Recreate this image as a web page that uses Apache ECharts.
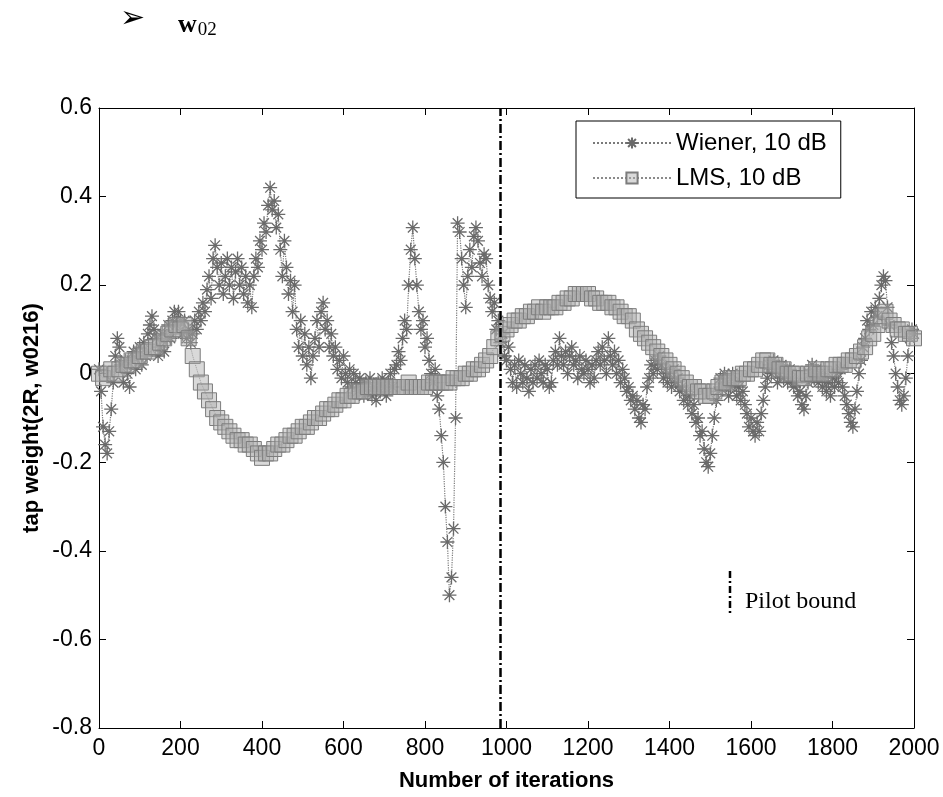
<!DOCTYPE html>
<html>
<head>
<meta charset="utf-8">
<script src="https://cdn.jsdelivr.net/npm/echarts@6/dist/echarts.min.js"></script>
<style>
html,body{margin:0;padding:0;background:#fff;}
#chart{width:943px;height:797px;}
</style>
</head>
<body>
<div id="chart"></div>
<script>
// ---- data ----
const wienerStep = 5;   // Wiener samples every 5 iterations, 0..2000
const wienerValues = [
 0.01,-0.04,-0.12,-0.16,-0.18,-0.13,-0.08,-0.02,0.04,0.08,
 0.06,0.02,-0.02,0.03,0.00,-0.03,0.03,0.05,0.01,0.04,
 0.06,0.02,0.07,0.04,0.09,0.11,0.13,0.10,0.08,0.04,
 0.06,0.09,0.05,0.08,0.11,0.08,0.12,0.14,0.11,0.14,
 0.12,0.09,0.12,0.08,0.10,0.07,0.09,0.12,0.10,0.14,
 0.12,0.16,0.14,0.19,0.22,0.17,0.26,0.29,0.24,0.20,
 0.25,0.18,0.22,0.26,0.20,0.24,0.17,0.23,0.26,0.20,
 0.24,0.18,0.22,0.16,0.20,0.15,0.22,0.26,0.24,0.30,
 0.28,0.34,0.32,0.38,0.42,0.37,0.39,0.33,0.36,0.28,
 0.22,0.30,0.24,0.18,0.21,0.14,0.20,0.10,0.06,0.12,
 0.04,0.09,0.02,0.06,-0.01,0.04,0.08,0.12,0.06,0.14,
 0.16,0.10,0.12,0.06,0.09,0.04,0.06,0.01,0.03,-0.01,
 0.04,0.00,-0.02,0.01,-0.03,0.00,-0.02,-0.04,-0.01,-0.03,
 -0.05,-0.02,-0.04,-0.01,-0.05,-0.03,-0.06,-0.02,-0.04,-0.01,
 -0.03,-0.05,-0.02,0.00,-0.03,0.01,0.02,0.05,0.03,0.08,
 0.12,0.10,0.20,0.28,0.33,0.26,0.20,0.14,0.10,0.12,
 0.06,0.08,0.03,0.00,-0.02,0.01,-0.05,-0.08,-0.14,-0.20,
 -0.30,-0.38,-0.50,-0.46,-0.35,-0.10,0.34,0.32,0.26,0.20,
 0.15,0.22,0.28,0.24,0.31,0.33,0.30,0.25,0.22,0.27,
 0.26,0.20,0.17,0.14,0.16,0.10,0.12,0.07,0.09,0.04,
 0.03,0.06,0.01,-0.02,0.02,-0.03,0.03,0.00,-0.02,0.02,
 -0.01,-0.04,0.01,-0.02,0.02,-0.01,0.03,0.00,-0.02,0.02,
 0.01,-0.03,-0.02,0.03,0.05,0.02,0.08,0.04,0.02,0.05,
 0.00,0.04,0.06,0.02,0.03,-0.01,0.04,0.01,0.00,0.03,
 0.01,-0.02,0.02,-0.01,0.03,0.05,0.02,0.06,0.03,0.00,
 0.08,0.04,0.02,0.05,0.00,0.03,-0.02,0.01,-0.01,-0.04,
 -0.03,-0.06,-0.05,-0.08,-0.06,-0.10,-0.11,-0.07,-0.08,-0.03,
 -0.01,0.02,0.00,0.03,0.01,0.04,0.02,-0.01,0.01,-0.02,
 0.00,-0.03,0.01,-0.02,-0.01,-0.04,-0.03,-0.06,-0.04,-0.07,
 -0.05,-0.09,-0.07,-0.11,-0.10,-0.14,-0.13,-0.17,-0.20,-0.21,
 -0.18,-0.14,-0.10,-0.06,-0.04,-0.01,-0.03,0.00,-0.02,-0.05,
 -0.03,0.00,-0.02,-0.05,-0.03,-0.06,-0.04,-0.07,-0.09,-0.12,
 -0.10,-0.13,-0.14,-0.11,-0.13,-0.09,-0.06,-0.03,-0.01,0.02,
 0.00,0.03,0.01,-0.02,0.00,0.02,-0.01,0.01,-0.02,0.01,
 -0.01,-0.03,-0.02,-0.05,-0.04,-0.07,-0.08,-0.05,-0.02,0.00,
 0.02,-0.01,0.01,-0.02,0.00,-0.03,-0.01,-0.04,-0.02,-0.05,
 -0.01,-0.03,0.00,-0.02,0.01,-0.03,-0.05,-0.07,-0.09,-0.11,
 -0.12,-0.08,-0.04,0.00,0.03,0.06,0.08,0.12,0.10,0.14,
 0.11,0.15,0.13,0.17,0.20,0.22,0.21,0.15,0.11,0.07,
 0.04,0.00,-0.03,-0.06,-0.07,-0.05,-0.01,0.04,0.08,0.10,
 0.09
];
const lmsStep = 10;     // LMS samples every 10 iterations, 0..2000
const lmsValues = [
 0.00,-0.01,0.00,0.01,0.00,0.01,0.02,0.02,0.03,0.03,
 0.04,0.05,0.05,0.06,0.06,0.07,0.08,0.09,0.10,0.11,
 0.10,0.11,0.08,0.04,0.01,-0.02,-0.04,-0.06,-0.08,-0.10,
 -0.11,-0.12,-0.13,-0.14,-0.15,-0.15,-0.16,-0.16,-0.17,-0.18,
 -0.19,-0.18,-0.18,-0.17,-0.16,-0.16,-0.15,-0.14,-0.14,-0.13,
 -0.12,-0.12,-0.11,-0.10,-0.10,-0.09,-0.08,-0.08,-0.07,-0.06,
 -0.06,-0.05,-0.05,-0.04,-0.04,-0.04,-0.03,-0.03,-0.03,-0.03,
 -0.03,-0.03,-0.03,-0.03,-0.03,-0.03,-0.02,-0.03,-0.03,-0.03,
 -0.03,-0.02,-0.02,-0.02,-0.02,-0.02,-0.02,-0.01,-0.01,-0.01,
 0.00,0.00,0.01,0.01,0.02,0.03,0.04,0.06,0.08,0.09,
 0.10,0.11,0.12,0.12,0.13,0.13,0.14,0.14,0.15,0.14,
 0.15,0.15,0.15,0.16,0.16,0.17,0.17,0.18,0.18,0.18,
 0.18,0.17,0.17,0.16,0.16,0.16,0.15,0.15,0.14,0.13,
 0.13,0.12,0.10,0.09,0.08,0.07,0.06,0.05,0.04,0.03,
 0.02,0.01,0.00,-0.01,-0.02,-0.03,-0.03,-0.04,-0.04,-0.05,
 -0.05,-0.04,-0.03,-0.02,-0.02,-0.01,-0.01,-0.01,0.00,0.00,
 0.01,0.01,0.02,0.03,0.03,0.02,0.02,0.01,0.01,0.00,
 0.00,0.00,-0.01,-0.01,0.00,0.00,0.01,0.00,0.00,0.01,
 0.01,0.02,0.02,0.02,0.03,0.03,0.04,0.05,0.06,0.08,
 0.09,0.11,0.13,0.14,0.12,0.11,0.10,0.10,0.09,0.09,
 0.08
];
const pilotBound = 985;
const xTickMin = 0, xTickMax = 2000, xTickStep = 200;
const yTickMin = -0.8, yTickMax = 0.6, yTickStep = 0.2;
const seriesNames = ['Wiener, 10 dB', 'LMS, 10 dB'];

const toPairs = (vals, step) => vals.map((v, i) => [i * step, v]);

const starPath = 'path://M0,-10L0,10M-10,0L10,0M-7,-7L7,7M-7,7L7,-7';
const sans = 'Liberation Sans, Arial, Helvetica, sans-serif';
const serif = 'Liberation Serif, Times New Roman, serif';

const chart = echarts.init(document.getElementById('chart'), null, {renderer: 'canvas'});

const fmtY = v => {
  const s = (Math.round(v * 10) / 10).toFixed(1);
  if (s === '0.0' || s === '-0.0') return '0';
  return s;
};
const fmtX = v => String(Math.round(v));

const frameAxisLine = {show: true, onZero: false, lineStyle: {color: '#000', width: 1}};
const frameTick = {show: true, inside: true, length: 7, lineStyle: {color: '#000'}};

const option = {
  backgroundColor: '#fff',
  animation: false,
  grid: {left: 99, right: 29, top: 108, bottom: 65, show: false},
  legend: {
    orient: 'vertical',
    left: 576, top: 121,
    padding: [10, 14, 8, 16],
    itemGap: 11,
    itemWidth: 78, itemHeight: 14,
    borderColor: '#000', borderWidth: 1, backgroundColor: '#fff',
    textStyle: {fontFamily: sans, fontSize: 24, color: '#000'},
    data: seriesNames
  },
  xAxis: [{
    type: 'value', min: xTickMin, max: xTickMax, interval: xTickStep,
    name: 'Number of iterations', nameLocation: 'middle', nameGap: 42,
    nameTextStyle: {fontFamily: sans, fontWeight: 'bold', fontSize: 22, color: '#000'},
    axisLine: frameAxisLine, axisTick: frameTick,
    axisLabel: {fontFamily: sans, fontSize: 23, color: '#000', margin: 9, formatter: fmtX},
    splitLine: {show: false}
  }, {
    type: 'value', position: 'top', min: xTickMin, max: xTickMax, interval: xTickStep,
    axisLine: frameAxisLine, axisTick: frameTick,
    axisLabel: {show: false}, splitLine: {show: false}
  }],
  yAxis: [{
    type: 'value', min: yTickMin, max: yTickMax, interval: yTickStep,
    name: 'tap weight(2R, w0216)', nameLocation: 'middle', nameGap: 56,
    nameMoveOverlap: false,
    nameTextStyle: {fontFamily: sans, fontWeight: 'bold', fontSize: 22, color: '#000'},
    axisLine: frameAxisLine, axisTick: frameTick,
    axisLabel: {fontFamily: sans, fontSize: 23, color: '#000', margin: 7, formatter: fmtY},
    splitLine: {show: false}
  }, {
    type: 'value', position: 'right', min: yTickMin, max: yTickMax, interval: yTickStep,
    axisLine: frameAxisLine, axisTick: frameTick,
    axisLabel: {show: false}, splitLine: {show: false}
  }],
  series: [{
    name: seriesNames[0],
    type: 'line',
    data: toPairs(wienerValues, wienerStep),
    symbol: starPath, symbolSize: 14, showAllSymbol: true,
    itemStyle: {color: 'rgba(0,0,0,0)', borderColor: '#6a6a6a', borderWidth: 1.3},
    lineStyle: {color: '#7a7a7a', width: 1.2, type: 'dotted'},
    z: 2,
    markLine: {
      silent: true, symbol: 'none', animation: false,
      label: {show: false},
      lineStyle: {color: '#000', width: 2.5, type: [9, 3, 2, 3]},
      data: [{xAxis: pilotBound}]
    }
  }, {
    name: seriesNames[1],
    type: 'line',
    data: toPairs(lmsValues, lmsStep),
    symbol: 'rect', symbolSize: 15, showAllSymbol: true,
    itemStyle: {color: 'rgba(170,170,170,0.45)', borderColor: '#7c7c7c', borderWidth: 1},
    lineStyle: {color: '#8a8a8a', width: 1, type: 'dotted'},
    z: 3
  }],
  graphic: [
    {type: 'text', left: 120, top: 4, style: {text: '➢', font: '30px DejaVu Sans', fill: '#000'}},
    {type: 'text', left: 178, top: 12, style: {
      text: '{w|w}{s|02}',
      rich: {w: {font: 'bold 26px ' + serif, fill: '#000'}, s: {font: '19px ' + serif, fill: '#000', padding: [10, 0, 0, 1]}}
    }},
    {type: 'line', shape: {x1: 730, y1: 571, x2: 730, y2: 615}, style: {stroke: '#000', lineWidth: 2.5, lineDash: [7, 3, 2, 3]}},
    {type: 'text', left: 745, top: 590, style: {text: 'Pilot bound', font: '24px ' + serif, fill: '#000'}}
  ]
};
chart.setOption(option);
</script>
</body>
</html>
